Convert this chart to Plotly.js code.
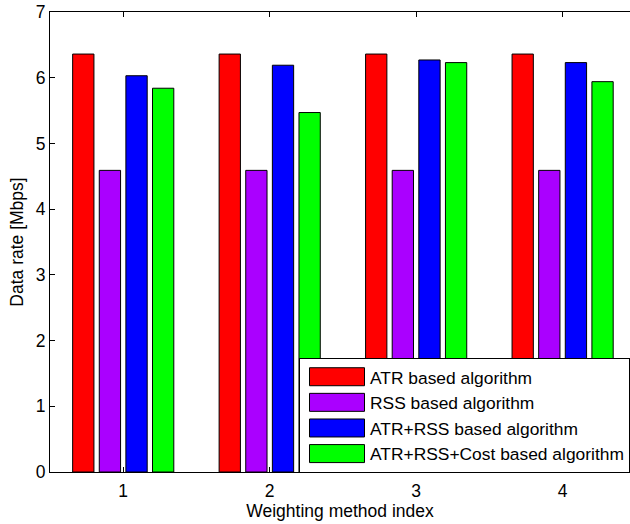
<!DOCTYPE html>
<html>
<head>
<meta charset="utf-8">
<script src="https://cdn.plot.ly/plotly-3.0.1.min.js"></script>
<style>html,body{margin:0;padding:0;background:#fff;}#chart{width:630px;height:524px;}</style>
</head>
<body>
<div id="chart"></div>
<script>
var categories = [1, 2, 3, 4];
var seriesNames = ["ATR based algorithm", "RSS based algorithm", "ATR+RSS based algorithm", "ATR+RSS+Cost based algorithm"];
var atr = [6.36, 6.36, 6.36, 6.36];
var rss = [4.59, 4.59, 4.59, 4.59];
var atrRss = [6.03, 6.19, 6.27, 6.23];
var atrRssCost = [5.84, 5.47, 6.23, 5.94];
var colors = ["#ff0000", "#aa00ff", "#0000ff", "#00ff00"];
var yTicks = [0, 1, 2, 3, 4, 5, 6, 7];

var seriesValues = [atr, rss, atrRss, atrRssCost];
var traces = seriesValues.map(function (vals, i) {
  return {
    type: "bar",
    x: categories,
    y: vals,
    name: seriesNames[i],
    marker: { color: colors[i], line: { color: "#000", width: 1 } }
  };
});

var font = { family: "Arial, 'Liberation Sans', sans-serif", size: 17.5, color: "#000" };
var layout = {
  width: 630,
  height: 524,
  margin: { l: 50, r: 0, t: 12, b: 52 },
  paper_bgcolor: "#fff",
  plot_bgcolor: "#fff",
  font: font,
  barmode: "group",
  bargap: 0.273,
  bargroupgap: 0.2,
  showlegend: true,
  legend: {
    x: 1, xanchor: "right", y: -0.002, yanchor: "bottom",
    bgcolor: "#fff", bordercolor: "#000", borderwidth: 1,
    font: { family: font.family, size: 17.4, color: "#000" },
    itemwidth: 60,
    tracegroupgap: 0
  },
  xaxis: {
    range: [0.5, 4.46],
    tickvals: categories,
    ticktext: categories.map(String),
    ticks: "inside", ticklen: 5, tickcolor: "#000",
    showline: true, linecolor: "#000", linewidth: 1,
    mirror: "ticks",
    showgrid: false, zeroline: false,
    ticklabelstandoff: 3,
    title: { text: "Weighting method index", font: { size: 17.5 }, standoff: 3 }
  },
  yaxis: {
    range: [0, 7],
    tickvals: yTicks,
    ticktext: yTicks.map(String),
    ticks: "inside", ticklen: 5, tickcolor: "#000",
    showline: true, linecolor: "#000", linewidth: 1,
    mirror: false,
    showgrid: false, zeroline: false,
    title: { text: "Data rate [Mbps]", font: { size: 17.5 }, standoff: 7 }
  }
};

Plotly.newPlot("chart", traces, layout, { displayModeBar: false, staticPlot: true }).then(function () {
  // enlarge legend swatches to MATLAB-like rectangles
  var paths = document.querySelectorAll(".legend .legendpoints path");
  paths.forEach(function (p) {
    p.setAttribute("d", "M27.5,9H-27.5V-9H27.5Z");
    p.setAttribute("transform", "translate(37,0)");
  });
});
</script>
</body>
</html>
